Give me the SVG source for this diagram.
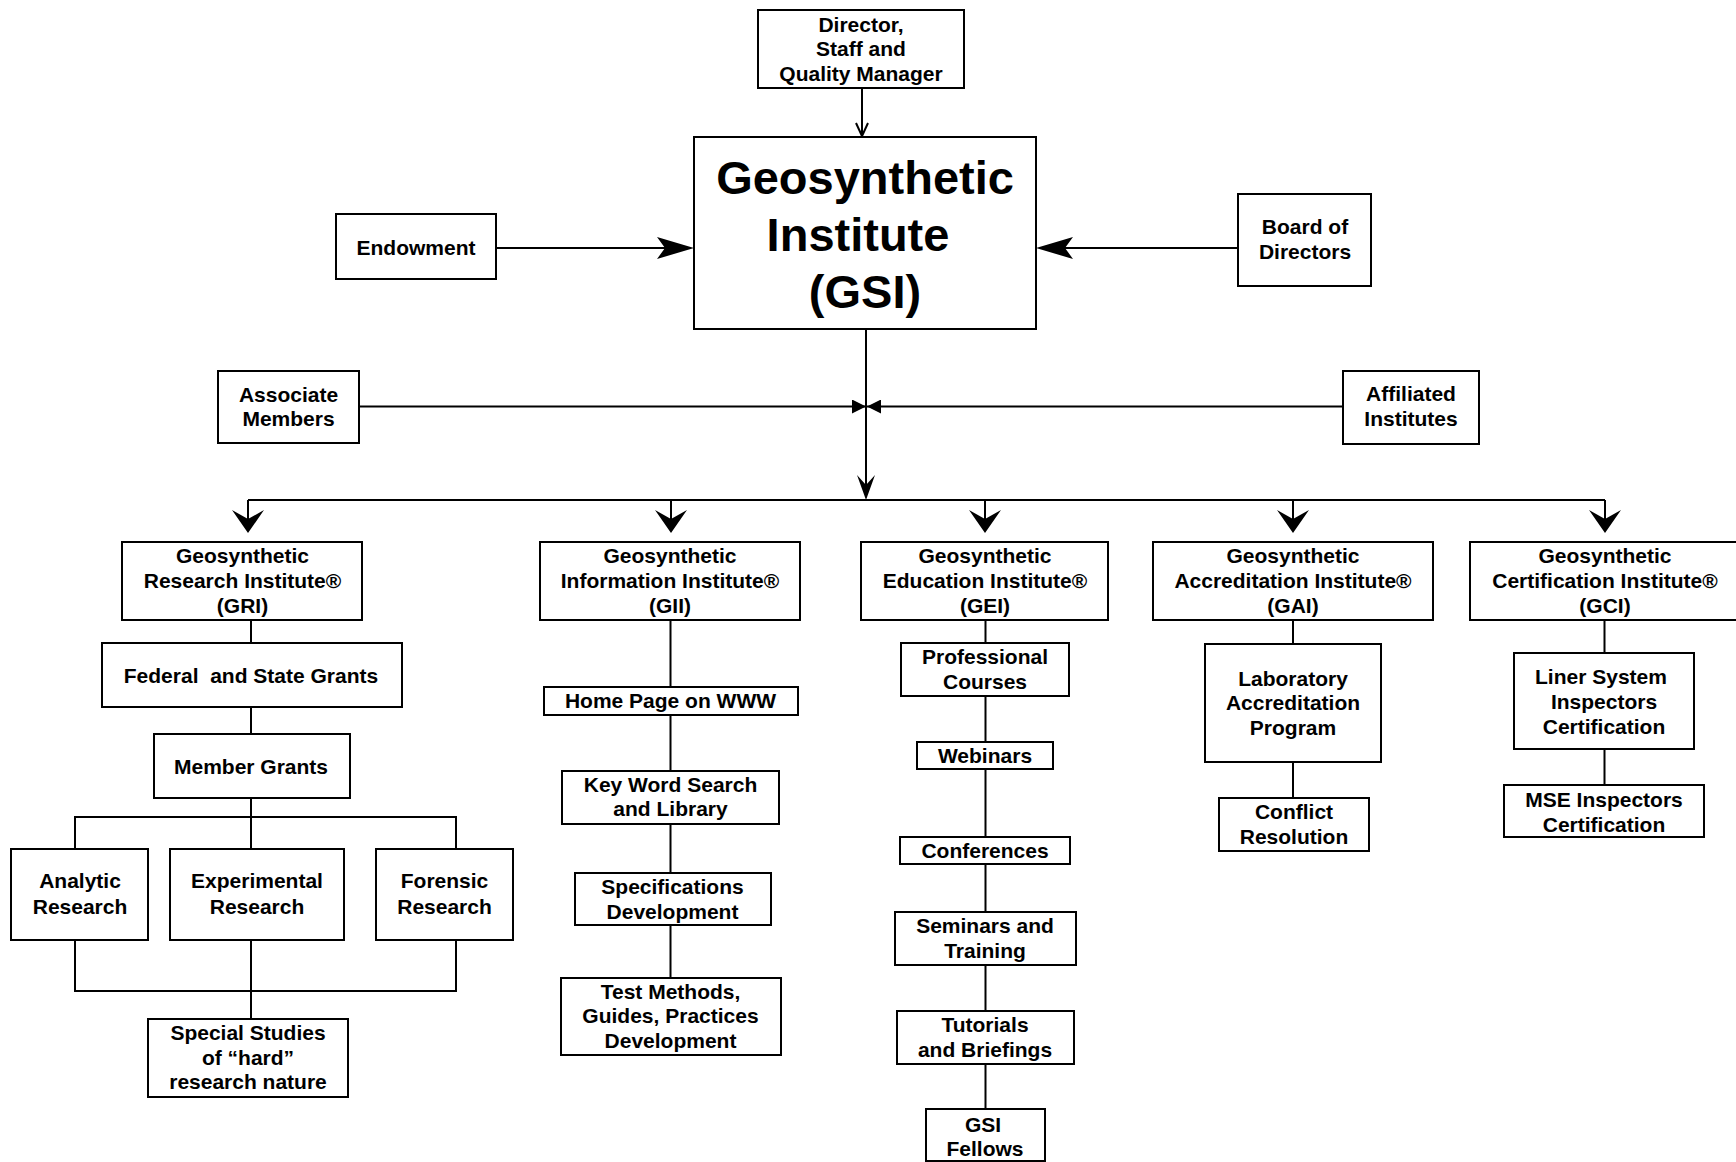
<svg xmlns="http://www.w3.org/2000/svg" width="1736" height="1162" viewBox="0 0 1736 1162">
  <style>
    .box { fill: #fff; stroke: #000; stroke-width: 2; }
    .t { font-family: "Liberation Sans", Arial, sans-serif; font-weight: bold; font-size: 21px; fill: #000; text-anchor: middle; }
    .big { font-size: 47px; }
    .ln { fill: none; stroke: #000; stroke-width: 2; }
  </style>
  <defs>
    <marker id="m-barb" markerUnits="userSpaceOnUse" viewBox="0 0 37 22" markerWidth="37" markerHeight="22" refX="8" refY="11" orient="auto">
      <path d="M0,0 L37,11 L0,22 L8,11 Z" fill="#000"/>
    </marker>
    <marker id="m-drop" markerUnits="userSpaceOnUse" viewBox="0 0 23 32" markerWidth="23" markerHeight="32" refX="9" refY="16" orient="auto">
      <path d="M0,0 L23,16 L0,32 L9,16 Z" fill="#000"/>
    </marker>
    <marker id="m-main" markerUnits="userSpaceOnUse" viewBox="0 0 25 18" markerWidth="25" markerHeight="18" refX="10" refY="9" orient="auto">
      <path d="M0,0 L25,9 L0,18 L10,9 Z" fill="#000"/>
    </marker>
    <marker id="m-tri" markerUnits="userSpaceOnUse" viewBox="0 0 14 14" markerWidth="14" markerHeight="14" refX="14" refY="7" orient="auto">
      <path d="M0,0 L14,7 L0,14 Z" fill="#000"/>
    </marker>
    <marker id="m-open" markerUnits="userSpaceOnUse" viewBox="-2 -2 18 16" markerWidth="18" markerHeight="16" refX="13" refY="6" orient="auto">
      <path d="M0,0 L13,6 L0,12" fill="none" stroke="#000" stroke-width="2"/>
    </marker>
  </defs>

  <!-- connectors -->
  <g id="connectors">
    <path class="ln" d="M862,88 V136" marker-end="url(#m-open)"/>
    <path class="ln" d="M496,248 H665" marker-end="url(#m-barb)"/>
    <path class="ln" d="M1238,248 H1065" marker-end="url(#m-barb)"/>
    <path class="ln" d="M866,329 V485" marker-end="url(#m-main)"/>
    <path class="ln" d="M359,406.5 H866" marker-end="url(#m-tri)"/>
    <path class="ln" d="M1343,406.5 H867" marker-end="url(#m-tri)"/>
    <!-- distribution bus -->
    <path class="ln" d="M248,500 H1605"/>
    <path class="ln" d="M248,500 V519" marker-end="url(#m-drop)"/>
    <path class="ln" d="M671,500 V519" marker-end="url(#m-drop)"/>
    <path class="ln" d="M985,500 V519" marker-end="url(#m-drop)"/>
    <path class="ln" d="M1293,500 V519" marker-end="url(#m-drop)"/>
    <path class="ln" d="M1605,500 V519" marker-end="url(#m-drop)"/>
    <!-- GRI branch -->
    <path class="ln" d="M251,620 V643 M251,707 V734 M251,798 V849 M75,849 V817 H456 V849"/>
    <path class="ln" d="M75,940 V991 H456 V940 M251,940 V1019"/>
    <!-- GII branch -->
    <path class="ln" d="M670.5,620 V687 M670.5,715 V771 M670.5,824 V873 M670.5,925 V978"/>
    <!-- GEI branch -->
    <path class="ln" d="M985.5,620 V643 M985.5,696 V742 M985.5,769 V837 M985.5,864 V912 M985.5,965 V1011 M985.5,1064 V1109"/>
    <!-- GAI branch -->
    <path class="ln" d="M1293,620 V644 M1293,762 V798"/>
    <!-- GCI branch -->
    <path class="ln" d="M1604.5,620 V653 M1604.5,749 V785"/>
  </g>

  <g id="director">
    <rect class="box" x="758" y="10" width="206" height="78"/>
    <text class="t" x="861" y="32">Director,</text>
    <text class="t" x="861" y="56">Staff and</text>
    <text class="t" x="861" y="81">Quality Manager</text>
  </g>
  <g id="gsi">
    <rect class="box" x="694" y="137" width="342" height="192"/>
    <text class="t big" x="865" y="194">Geosynthetic</text>
    <text class="t big" x="858" y="251">Institute</text>
    <text class="t big" x="865" y="308">(GSI)</text>
  </g>
  <g id="endowment">
    <rect class="box" x="336" y="214" width="160" height="65"/>
    <text class="t" x="416" y="255">Endowment</text>
  </g>
  <g id="board">
    <rect class="box" x="1238" y="194" width="133" height="92"/>
    <text class="t" x="1305" y="234">Board of</text>
    <text class="t" x="1305" y="259">Directors</text>
  </g>
  <g id="associate">
    <rect class="box" x="218" y="371" width="141" height="72"/>
    <text class="t" x="288.5" y="402">Associate</text>
    <text class="t" x="288.5" y="426">Members</text>
  </g>
  <g id="affiliated">
    <rect class="box" x="1343" y="371" width="136" height="73"/>
    <text class="t" x="1411" y="401">Affiliated</text>
    <text class="t" x="1411" y="426">Institutes</text>
  </g>

  <!-- GRI column -->
  <g id="gri">
    <rect class="box" x="122" y="542" width="240" height="78"/>
    <text class="t" x="242.5" y="563">Geosynthetic</text>
    <text class="t" x="242.5" y="588">Research Institute®</text>
    <text class="t" x="242.5" y="613">(GRI)</text>
  </g>
  <g id="federal">
    <rect class="box" x="102" y="643" width="300" height="64"/>
    <text class="t" x="251" y="683" xml:space="preserve">Federal  and State Grants</text>
  </g>
  <g id="member-grants">
    <rect class="box" x="154" y="734" width="196" height="64"/>
    <text class="t" x="251" y="774">Member Grants</text>
  </g>
  <g id="analytic">
    <rect class="box" x="11" y="849" width="137" height="91"/>
    <text class="t" x="80" y="888">Analytic</text>
    <text class="t" x="80" y="914">Research</text>
  </g>
  <g id="experimental">
    <rect class="box" x="170" y="849" width="174" height="91"/>
    <text class="t" x="257" y="888">Experimental</text>
    <text class="t" x="257" y="914">Research</text>
  </g>
  <g id="forensic">
    <rect class="box" x="376" y="849" width="137" height="91"/>
    <text class="t" x="444.5" y="888">Forensic</text>
    <text class="t" x="444.5" y="914">Research</text>
  </g>
  <g id="special">
    <rect class="box" x="148" y="1019" width="200" height="78"/>
    <text class="t" x="248" y="1040">Special Studies</text>
    <text class="t" x="248" y="1065">of “hard”</text>
    <text class="t" x="248" y="1089">research nature</text>
  </g>

  <!-- GII column -->
  <g id="gii">
    <rect class="box" x="540" y="542" width="260" height="78"/>
    <text class="t" x="670" y="563">Geosynthetic</text>
    <text class="t" x="670" y="588">Information Institute®</text>
    <text class="t" x="670" y="613">(GII)</text>
  </g>
  <g id="home-page">
    <rect class="box" x="544" y="687" width="254" height="28"/>
    <text class="t" x="670.5" y="708">Home Page on WWW</text>
  </g>
  <g id="key-word">
    <rect class="box" x="562" y="771" width="217" height="53"/>
    <text class="t" x="670.5" y="792">Key Word Search</text>
    <text class="t" x="670.5" y="816">and Library</text>
  </g>
  <g id="specifications">
    <rect class="box" x="575" y="873" width="196" height="52"/>
    <text class="t" x="672.5" y="894">Specifications</text>
    <text class="t" x="672.5" y="919">Development</text>
  </g>
  <g id="test-methods">
    <rect class="box" x="561" y="978" width="220" height="77"/>
    <text class="t" x="670.5" y="999">Test Methods,</text>
    <text class="t" x="670.5" y="1023">Guides, Practices</text>
    <text class="t" x="670.5" y="1048">Development</text>
  </g>

  <!-- GEI column -->
  <g id="gei">
    <rect class="box" x="861" y="542" width="247" height="78"/>
    <text class="t" x="985" y="563">Geosynthetic</text>
    <text class="t" x="985" y="588">Education Institute®</text>
    <text class="t" x="985" y="613">(GEI)</text>
  </g>
  <g id="professional">
    <rect class="box" x="901" y="643" width="168" height="53"/>
    <text class="t" x="985" y="664">Professional</text>
    <text class="t" x="985" y="689">Courses</text>
  </g>
  <g id="webinars">
    <rect class="box" x="917" y="742" width="136" height="27"/>
    <text class="t" x="985" y="763">Webinars</text>
  </g>
  <g id="conferences">
    <rect class="box" x="900" y="837" width="170" height="27"/>
    <text class="t" x="985" y="858">Conferences</text>
  </g>
  <g id="seminars">
    <rect class="box" x="895" y="912" width="181" height="53"/>
    <text class="t" x="985" y="933">Seminars and</text>
    <text class="t" x="985" y="958">Training</text>
  </g>
  <g id="tutorials">
    <rect class="box" x="897" y="1011" width="177" height="53"/>
    <text class="t" x="985" y="1032">Tutorials</text>
    <text class="t" x="985" y="1057">and Briefings</text>
  </g>
  <g id="fellows">
    <rect class="box" x="926" y="1109" width="119" height="52"/>
    <text class="t" x="983" y="1132">GSI</text>
    <text class="t" x="985" y="1156">Fellows</text>
  </g>

  <!-- GAI column -->
  <g id="gai">
    <rect class="box" x="1153" y="542" width="280" height="78"/>
    <text class="t" x="1293" y="563">Geosynthetic</text>
    <text class="t" x="1293" y="588">Accreditation Institute®</text>
    <text class="t" x="1293" y="613">(GAI)</text>
  </g>
  <g id="laboratory">
    <rect class="box" x="1205" y="644" width="176" height="118"/>
    <text class="t" x="1293" y="686">Laboratory</text>
    <text class="t" x="1293" y="710">Accreditation</text>
    <text class="t" x="1293" y="735">Program</text>
  </g>
  <g id="conflict">
    <rect class="box" x="1219" y="798" width="150" height="53"/>
    <text class="t" x="1294" y="819">Conflict</text>
    <text class="t" x="1294" y="844">Resolution</text>
  </g>

  <!-- GCI column -->
  <g id="gci">
    <rect class="box" x="1470" y="542" width="272" height="78"/>
    <text class="t" x="1605" y="563">Geosynthetic</text>
    <text class="t" x="1605" y="588">Certification Institute®</text>
    <text class="t" x="1605" y="613">(GCI)</text>
  </g>
  <g id="liner">
    <rect class="box" x="1514" y="653" width="180" height="96"/>
    <text class="t" x="1601" y="684">Liner System</text>
    <text class="t" x="1604" y="709">Inspectors</text>
    <text class="t" x="1604" y="734">Certification</text>
  </g>
  <g id="mse">
    <rect class="box" x="1504" y="785" width="200" height="52"/>
    <text class="t" x="1604" y="807">MSE Inspectors</text>
    <text class="t" x="1604" y="832">Certification</text>
  </g>
</svg>
